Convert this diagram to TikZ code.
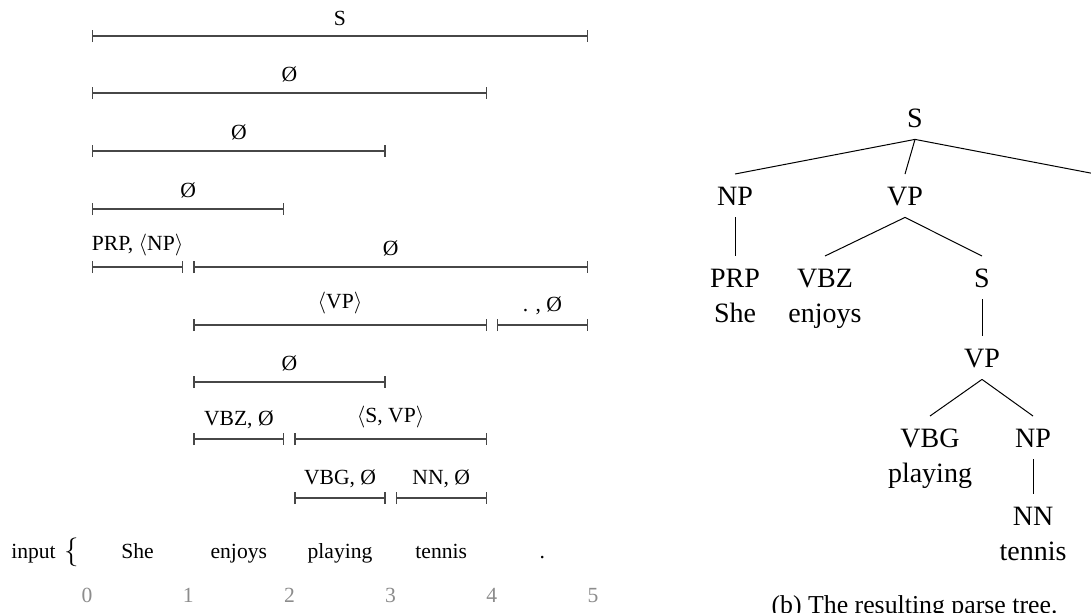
\documentclass[tikz,border=0pt]{standalone}
\usepackage{fontspec}
\setmainfont{Liberation Serif}
\usetikzlibrary{arrows.meta}
\begin{document}
\begin{tikzpicture}[x=0.5pt,y=-0.5pt,
  spanbar/.style={draw=black!72, line width=0.65pt, {Bar[width=6pt]}-{Bar[width=6pt]}},
  lab/.style={above=5pt, inner sep=0pt, font=\fontsize{10.8}{13}\selectfont, text=black},
  word/.style={anchor=base, inner sep=0pt, font=\fontsize{10.8}{13}\selectfont},
  idx/.style={anchor=base, inner sep=0pt, font=\fontsize{10.8}{13}\selectfont, text=black!45},
  tnode/.style={anchor=base, inner xsep=0pt, inner ysep=6pt, text height=9.3pt, text depth=0pt, font=\fontsize{14}{17}\selectfont},
  tword/.style={anchor=base, inner sep=0pt, font=\fontsize{14}{17}\selectfont},
  edge/.style={draw=black, line width=0.5pt}]
\useasboundingbox (0,0) rectangle (1091,612);
% ---- span coordinates
\coordinate (r1a) at (92,36);    \coordinate (r1b) at (588,36);
\coordinate (r2a) at (92,93);    \coordinate (r2b) at (486.8,93);
\coordinate (r3a) at (92,151);   \coordinate (r3b) at (385.6,151);
\coordinate (r4a) at (92,209);   \coordinate (r4b) at (284.4,209);
\coordinate (r5a) at (92,267);   \coordinate (r5b) at (183.2,267);
\coordinate (r5c) at (193.2,267);\coordinate (r5d) at (588,267);
\coordinate (r6a) at (193.2,325);\coordinate (r6b) at (486.8,325);
\coordinate (r6c) at (496.8,325);\coordinate (r6d) at (588,325);
\coordinate (r7a) at (193.2,382);\coordinate (r7b) at (385.6,382);
\coordinate (r8a) at (193.2,439);\coordinate (r8b) at (284.4,439);
\coordinate (r8c) at (294.4,439);\coordinate (r8d) at (486.8,439);
\coordinate (r9a) at (294.4,498);\coordinate (r9b) at (385.6,498);
\coordinate (r9c) at (395.6,498);\coordinate (r9d) at (486.8,498);
% ---- spans
\draw[spanbar] (r1a) -- node[lab] {S} (r1b);
\draw[spanbar] (r2a) -- node[lab] {Ø} (r2b);
\draw[spanbar] (r3a) -- node[lab] {Ø} (r3b);
\draw[spanbar] (r4a) -- node[lab] {Ø} (r4b);
\draw[spanbar] (r5a) -- node[lab] {PRP, $\langle$NP$\rangle$} (r5b);
\draw[spanbar] (r5c) -- node[lab] {Ø} (r5d);
\draw[spanbar] (r6a) -- node[lab] {$\langle$VP$\rangle$} (r6b);
\draw[spanbar] (r6c) -- node[lab] {. , Ø} (r6d);
\draw[spanbar] (r7a) -- node[lab] {Ø} (r7b);
\draw[spanbar] (r8a) -- node[lab] {VBZ, Ø} (r8b);
\draw[spanbar] (r8c) -- node[lab] {$\langle$S, VP$\rangle$} (r8d);
\draw[spanbar] (r9a) -- node[lab] {VBG, Ø} (r9b);
\draw[spanbar] (r9c) -- node[lab] {NN, Ø} (r9d);
% ---- input
\node[word] (inp) at (33.5,558) {input};
\node[inner sep=0pt, font=\fontsize{14.6}{17}\selectfont] (brace) at (72,552) {$\Big\{$};
\node[word] (w1) at (137.6,558) {She};
\node[word] (w2) at (238.8,558) {enjoys};
\node[word] (w3) at (340,558) {playing};
\node[word] (w4) at (441.2,558) {tennis};
\node[word] (w5) at (542.4,558) {.};
\node[idx] (i0) at (87,602) {0};
\node[idx] (i1) at (188.2,602) {1};
\node[idx] (i2) at (289.4,602) {2};
\node[idx] (i3) at (390.6,602) {3};
\node[idx] (i4) at (491.8,602) {4};
\node[idx] (i5) at (593,602) {5};
% ---- parse tree
\node[tnode] (tS) at (915,127) {S};
\node[tnode] (tNP) at (735,205) {NP};
\node[tnode] (tVP) at (905,205) {VP};
\coordinate (tDot) at (1106,176);
\node[tnode] (tPRP) at (735,287) {PRP};
\node[tnode] (tVBZ) at (825,287) {VBZ};
\node[tnode] (tS2) at (982,287) {S};
\node[tword] (tw1) at (735,322) {She};
\node[tword] (tw2) at (825,322) {enjoys};
\node[tnode] (tVP2) at (982,367) {VP};
\node[tnode] (tVBG) at (930,447) {VBG};
\node[tnode] (tNP2) at (1033,447) {NP};
\node[tword] (tw3) at (930,482) {playing};
\node[tnode] (tNN) at (1033,525) {NN};
\node[tword] (tw4) at (1033,560) {tennis};
\draw[edge] (tS.south) -- (tNP.north);
\draw[edge] (tS.south) -- (tVP.north);
\draw[edge] (tS.south) -- (tDot);
\draw[edge] (tNP.south) -- (tPRP.north);
\draw[edge] (tVP.south) -- (tVBZ.north);
\draw[edge] (tVP.south) -- (tS2.north);
\draw[edge] (tS2.south) -- (tVP2.north);
\draw[edge] (tVP2.south) -- (tVBG.north);
\draw[edge] (tVP2.south) -- (tNP2.north);
\draw[edge] (tNP2.south) -- (tNN.north);
\node[anchor=base, inner sep=0pt, font=\fontsize{12.9}{15}\selectfont] (cap) at (914.5,613) {(b) The resulting parse tree.};
\end{tikzpicture}
\end{document}
